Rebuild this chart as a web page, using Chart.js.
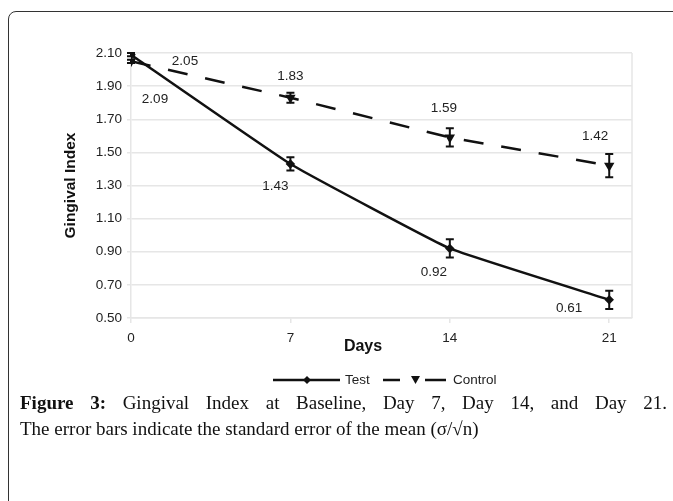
<!DOCTYPE html>
<html>
<head>
<meta charset="utf-8">
<script src="https://cdn.jsdelivr.net/npm/chart.js@4/dist/chart.umd.min.js"></script>
<style>
  html, body { margin: 0; padding: 0; background: #fff; }
  body { width: 673px; height: 501px; overflow: hidden; position: relative; }
  .box {
    position: absolute; left: 8px; top: 11px; width: 720px; height: 600px;
    border: 1.5px solid #333; border-radius: 8px;
  }
  .chart-wrap { position: absolute; left: 0; top: 0; width: 673px; height: 395px; }
  .caption {
    position: absolute; left: 20px; top: 390px; width: 647px;
    font-family: "Liberation Serif", serif; font-size: 19px; line-height: 26px;
    color: #111;
  }
  .caption .l1 { text-align: justify; text-align-last: justify; }
</style>
</head>
<body>
<div class="box"></div>
<div class="chart-wrap"><canvas id="line-chart"></canvas></div>
<div class="caption">
  <div class="l1"><b>Figure 3:</b> Gingival Index at Baseline, Day 7, Day 14, and Day 21.</div>
  <div>The error bars indicate the standard error of the mean (σ/√n)</div>
</div>
<script>
// values
const days = [0, 7, 14, 21];
const testMean = [2.09, 1.43, 0.92, 0.61];
const testErr = [0.01, 0.04, 0.055, 0.055];
const controlMean = [2.05, 1.83, 1.59, 1.42];
const controlErr = [0.01, 0.03, 0.055, 0.07];
const yTicks = [0.5, 0.7, 0.9, 1.1, 1.3, 1.5, 1.7, 1.9, 2.1];

const FONT = "'Liberation Sans', Arial, sans-serif";
const INK = "#111";

// where each value label sits relative to its point (px)
const labelOffsets = [
  [[24, 45], [-15, 22], [-16, 24], [-40, 8]],
  [[54, 0], [0, -21], [-6, -29], [-14, -29]],
];

const errorBars = {
  id: "errorBars",
  afterDatasetsDraw(chart) {
    const { ctx, scales } = chart;
    const errs = [testErr, controlErr];
    ctx.save();
    ctx.strokeStyle = INK;
    ctx.lineWidth = 2;
    chart.data.datasets.forEach((ds, i) => {
      ds.data.forEach((p, j) => {
        const x = scales.x.getPixelForValue(p.x);
        const yTop = scales.y.getPixelForValue(p.y + errs[i][j]);
        const yBot = scales.y.getPixelForValue(p.y - errs[i][j]);
        ctx.beginPath();
        ctx.moveTo(x, yTop); ctx.lineTo(x, yBot);
        ctx.moveTo(x - 4, yTop); ctx.lineTo(x + 4, yTop);
        ctx.moveTo(x - 4, yBot); ctx.lineTo(x + 4, yBot);
        ctx.stroke();
      });
    });
    ctx.restore();
  },
};

const valueLabels = {
  id: "valueLabels",
  afterDatasetsDraw(chart) {
    const { ctx } = chart;
    ctx.save();
    ctx.font = "13.5px " + FONT;
    ctx.fillStyle = "#222";
    ctx.textAlign = "center";
    ctx.textBaseline = "middle";
    chart.data.datasets.forEach((ds, i) => {
      const meta = chart.getDatasetMeta(i);
      meta.data.forEach((pt, j) => {
        const [dx, dy] = labelOffsets[i][j];
        ctx.fillText(ds.data[j].y.toFixed(2), pt.x + dx, pt.y + dy);
      });
    });
    ctx.restore();
  },
};

// right edge of plot frame, x title and legend
const extras = {
  id: "extras",
  beforeDatasetsDraw(chart) {
    const { ctx, chartArea } = chart;
    ctx.save();
    ctx.strokeStyle = "#e6e6e6";
    ctx.lineWidth = 1.5;
    ctx.beginPath();
    ctx.moveTo(chartArea.right, chartArea.top);
    ctx.lineTo(chartArea.right, chartArea.bottom);
    ctx.stroke();
    ctx.restore();
  },
  afterDraw(chart) {
    const { ctx } = chart;
    ctx.save();
    ctx.fillStyle = INK;
    ctx.font = "bold 16px " + FONT;
    ctx.textAlign = "center";
    ctx.textBaseline = "middle";
    ctx.fillText("Days", 363, 347);

    // legend
    const ly = 380;
    ctx.strokeStyle = INK;
    ctx.lineWidth = 2.5;
    ctx.beginPath();
    ctx.moveTo(273, ly); ctx.lineTo(340, ly);
    ctx.moveTo(383, ly); ctx.lineTo(400, ly);
    ctx.moveTo(425, ly); ctx.lineTo(446, ly);
    ctx.stroke();
    ctx.fillStyle = INK;
    ctx.beginPath();
    ctx.moveTo(307, ly - 4); ctx.lineTo(311, ly); ctx.lineTo(307, ly + 4); ctx.lineTo(303, ly);
    ctx.closePath(); ctx.fill();
    ctx.beginPath();
    ctx.moveTo(411, ly - 4); ctx.lineTo(420, ly - 4); ctx.lineTo(415.5, ly + 4);
    ctx.closePath(); ctx.fill();
    ctx.font = "13.5px " + FONT;
    ctx.textAlign = "left";
    ctx.fillStyle = "#222";
    ctx.fillText("Test", 345, ly);
    ctx.fillText("Control", 453, ly);
    ctx.restore();
  },
};

const ctx = document.getElementById("line-chart").getContext("2d");
new Chart(ctx, {
  type: "line",
  data: {
    datasets: [
      {
        label: "Test",
        data: days.map((d, i) => ({ x: d, y: testMean[i] })),
        borderColor: INK,
        backgroundColor: INK,
        borderWidth: 2.5,
        pointStyle: "rectRot",
        pointRadius: 3,
        tension: 0.1,
        fill: false,
      },
      {
        label: "Control",
        data: days.map((d, i) => ({ x: d, y: controlMean[i] })),
        borderColor: INK,
        backgroundColor: INK,
        borderWidth: 2.5,
        borderDash: [20, 18],
        pointStyle: "triangle",
        rotation: 180,
        pointRadius: 3.5,
        fill: false,
      },
    ],
  },
  options: {
    responsive: true,
    maintainAspectRatio: false,
    animation: false,
    layout: { padding: { top: 53, right: 41, left: 0, bottom: 37 } },
    plugins: { legend: { display: false }, tooltip: { enabled: false } },
    scales: {
      x: {
        type: "linear",
        min: 0,
        max: 22,
        afterBuildTicks: (scale) => { scale.ticks = days.map((v) => ({ value: v })); },
        afterFit: (scale) => { scale.height = 40; },
        grid: { drawOnChartArea: false, drawTicks: true, tickLength: 5, color: "#e6e6e6", lineWidth: 1.5 },
        border: { color: "#e6e6e6", width: 1.5 },
        ticks: { font: { family: FONT, size: 13.5 }, color: "#222", padding: 7, maxRotation: 0 },
      },
      y: {
        min: 0.5,
        max: 2.1,
        afterBuildTicks: (scale) => { scale.ticks = yTicks.map((v) => ({ value: v })); },
        afterFit: (scale) => { scale.width = 131; },
        grid: { color: "#e6e6e6", lineWidth: 1.5, tickLength: 4 },
        border: { color: "#e6e6e6", width: 1.5 },
        ticks: {
          font: { family: FONT, size: 13.5 },
          color: "#222",
          padding: 5,
          callback: (v) => Number(v).toFixed(2),
        },
        title: {
          display: true,
          text: "Gingival Index",
          font: { family: FONT, size: 15.5, weight: "bold" },
          color: INK,
          padding: { top: 61, bottom: 0 },
        },
      },
    },
  },
  plugins: [extras, errorBars, valueLabels],
});
</script>
</body>
</html>
